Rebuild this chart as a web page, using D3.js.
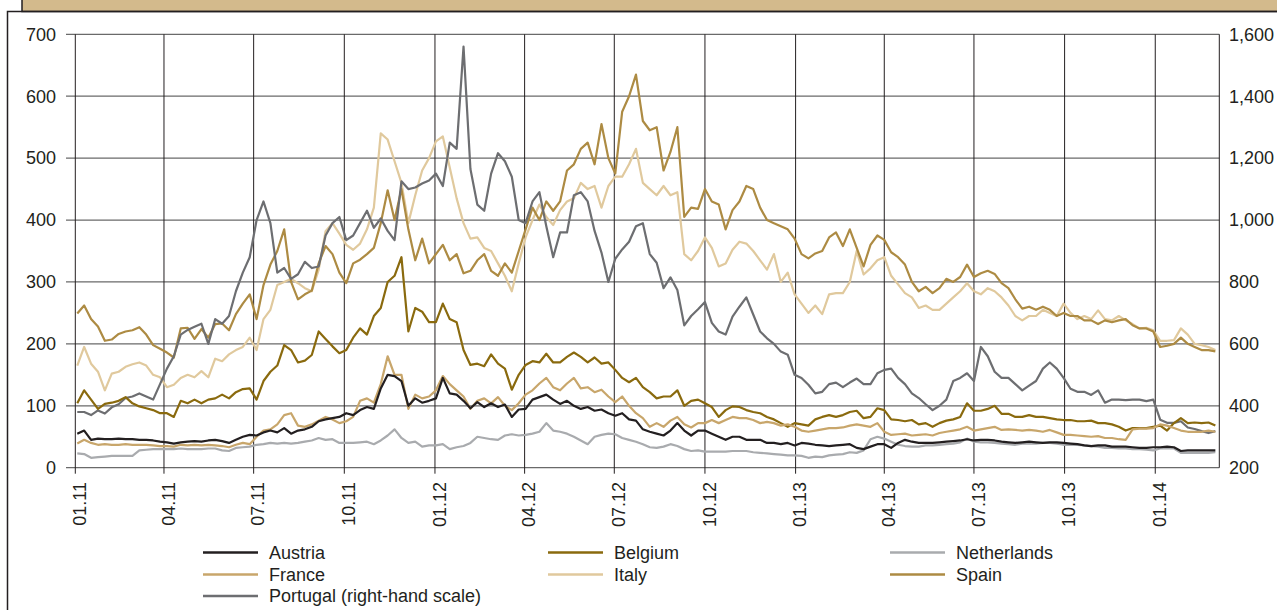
<!DOCTYPE html>
<html>
<head>
<meta charset="utf-8">
<script src="https://cdn.jsdelivr.net/npm/d3@7"></script>
<style>
  body { margin: 0; background: #fff; }
  svg text { font-family: "Liberation Sans", Arial, Helvetica, sans-serif; fill: #231f20; }
</style>
</head>
<body>
<svg id="chart" width="1277" height="610"></svg>
<script>
// weekly observations (Mondays), first one 3 Jan 2011
const firstWeek = new Date(2011, 0, 3);
const lastWeek = new Date(2014, 2, 3);

const tickLabels = ["01.11", "04.11", "07.11", "10.11", "01.12", "04.12", "07.12",
  "10.12", "01.13", "04.13", "07.13", "10.13", "01.14"];
const leftTicks = [0, 100, 200, 300, 400, 500, 600, 700];
const rightTicks = [200, 400, 600, 800, 1000, 1200, 1400, 1600];

const austria = [55,60,45,47,46,46,47,46,46,45,45,44,42,41,39,41,42,43,42,44,45,43,40,45,50,53,52,57,60,57,64,55,60,62,66,75,78,80,82,88,85,93,98,95,128,150,148,140,100,112,105,108,112,
  145,120,118,108,96,106,98,104,98,102,82,94,95,110,114,118,110,103,108,100,95,98,92,94,88,84,88,78,76,62,58,55,52,60,72,60,52,60,60,55,50,45,50,50,45,45,45,40,40,38,40,36,
  40,39,37,36,35,36,37,38,32,30,34,38,38,32,40,45,42,40,40,40,41,42,43,44,46,44,45,45,44,42,41,40,41,42,41,40,41,41,40,39,38,36,35,36,36,34,34,34,33,32,32,33,33,34,33,27,28,28,28,28,28];

const belgium = [104,125,110,95,103,105,108,114,104,99,96,93,88,88,82,108,104,110,104,110,112,118,112,122,127,128,110,140,155,165,198,190,170,173,182,220,208,196,185,190,210,225,215,245,258,300,310,340,220,258,252,235,235,
  265,240,235,190,166,168,164,183,168,160,126,150,166,172,170,184,170,170,179,186,179,170,178,168,170,158,145,138,145,130,122,112,115,115,125,100,108,110,104,98,82,93,99,98,93,90,88,82,78,72,66,72,
  70,68,78,82,85,82,85,90,92,80,82,96,93,78,77,75,77,70,72,66,72,76,78,82,104,92,92,95,100,87,87,82,82,85,82,82,80,78,77,77,75,75,76,72,72,70,66,60,64,64,64,66,68,60,72,80,72,73,72,73,68];

const netherlands = [23,22,16,17,18,19,19,19,19,28,29,30,30,30,30,31,30,30,30,31,31,28,27,32,33,34,37,38,40,39,40,39,40,42,44,48,45,46,40,40,40,41,42,38,44,52,62,48,40,42,34,36,36,
  38,30,33,35,40,50,48,46,45,52,54,52,53,55,58,72,60,58,55,50,44,38,50,53,55,54,48,45,42,38,33,32,34,38,35,30,27,28,26,26,26,26,27,27,27,25,24,23,22,21,20,20,
  19,16,18,17,20,21,22,25,24,28,46,50,47,42,37,35,34,34,36,36,37,38,39,41,47,42,41,41,40,39,38,37,39,39,39,40,40,39,37,37,37,36,35,34,32,32,31,31,30,30,29,28,31,31,31,24,24,24,24,24,25];

const france = [39,45,40,37,38,37,37,38,37,37,37,36,35,35,34,37,36,37,36,37,36,35,33,37,40,38,50,60,62,70,85,88,68,66,70,76,82,78,72,75,82,108,112,105,135,180,150,150,95,118,112,115,125,
  148,135,125,115,95,108,112,104,114,100,93,104,118,125,136,145,130,125,136,145,128,130,122,126,115,106,115,100,88,80,66,72,66,76,82,70,65,72,72,77,72,77,82,80,80,77,72,74,72,68,70,66,
  60,58,60,62,64,64,65,68,70,68,66,72,58,53,54,55,52,53,54,52,56,58,60,62,66,60,62,64,66,61,62,61,60,61,60,58,61,57,53,53,52,51,50,51,48,48,46,45,62,63,63,64,70,68,64,60,58,58,58,60,58];

const italy = [165,195,168,155,125,152,155,163,167,170,165,150,146,130,134,145,150,146,156,146,176,172,183,190,195,210,190,240,255,295,300,305,298,290,285,320,382,395,378,360,352,362,385,420,540,530,495,460,395,440,480,500,527,
  535,485,435,395,370,372,355,350,330,310,285,330,372,400,425,405,392,416,430,435,460,450,455,420,455,470,470,490,515,460,450,440,455,440,445,345,335,350,372,355,325,330,352,365,362,350,335,320,345,300,315,280,
  265,250,262,248,280,282,282,300,350,312,322,335,340,310,296,282,275,258,262,255,255,265,275,285,298,285,280,290,285,275,262,245,238,245,245,255,250,245,265,250,240,245,240,254,240,238,245,238,232,225,226,222,205,205,206,225,215,200,198,195,190];

const spain = [249,262,240,228,205,207,216,220,222,227,215,198,192,186,178,225,226,208,224,210,232,233,222,248,265,280,240,295,328,350,385,300,272,280,286,330,358,345,315,298,330,336,345,355,395,448,400,450,385,335,370,330,345,
  360,335,345,314,318,335,345,318,310,330,315,350,385,420,400,430,415,430,480,490,515,525,490,555,500,475,575,600,635,560,545,550,480,510,550,405,420,418,450,430,425,385,416,430,455,450,420,400,395,390,385,370,
  345,338,346,350,372,380,358,385,355,325,360,375,368,348,340,328,300,285,292,282,290,305,300,308,328,308,314,318,313,298,290,272,257,260,255,260,255,245,250,245,245,238,238,232,238,235,238,240,230,225,225,220,195,197,200,210,200,195,190,190,188];

// right-hand scale
const portugal = [380,380,370,385,375,395,405,425,430,440,430,420,470,520,560,630,645,655,665,600,680,665,690,770,830,880,1000,1060,990,830,845,810,825,865,845,850,950,990,1010,935,950,990,1030,975,1005,965,935,1125,1100,1105,1118,1128,1150,
  1110,1250,1230,1560,1165,1050,1030,1150,1216,1190,1140,1000,990,1060,1090,980,880,960,960,1080,1090,1060,965,895,800,875,905,930,980,990,890,862,780,815,774,660,690,712,735,668,640,630,688,720,750,695,640,618,600,575,565,500,
  490,468,440,445,470,475,460,475,488,470,470,505,516,520,490,470,440,425,405,386,400,420,480,490,505,480,590,560,510,490,490,470,450,465,480,520,540,520,490,455,445,445,435,450,410,420,420,418,420,420,415,420,355,345,345,350,330,325,318,312,318];

const series = [
  { name: "Italy", values: italy, color: "#e0c99d", right: false },
  { name: "Spain", values: spain, color: "#ad8b43", right: false },
  { name: "Portugal (right-hand scale)", values: portugal, color: "#6d6e71", right: true },
  { name: "Belgium", values: belgium, color: "#8a6a0e", right: false },
  { name: "France", values: france, color: "#c8a66b", right: false },
  { name: "Netherlands", values: netherlands, color: "#a9abae", right: false },
  { name: "Austria", values: austria, color: "#231f20", right: false }
];

const legendOrder = [
  ["Austria", "Belgium", "Netherlands"],
  ["France", "Italy", "Spain"],
  ["Portugal (right-hand scale)"]
];

const dates = d3.timeMonday.range(firstWeek, d3.timeDay.offset(lastWeek, 1));
const quarters = d3.timeMonth.every(3).range(new Date(2011, 0, 1), new Date(2014, 0, 2));

const svg = d3.select("#chart");

// frame and header band
svg.append("rect").attr("x", 22).attr("y", -2).attr("width", 1260).attr("height", 13.5)
  .attr("fill", "#d3ba8c").attr("stroke", "#231f20").attr("stroke-width", 1.5);
svg.append("path").attr("d", "M7.5,612V11.5H1280")
  .attr("fill", "none").attr("stroke", "#231f20").attr("stroke-width", 1.5);

const x = d3.scaleTime()
  .domain([new Date(2011, 0, 1), new Date(2014, 2, 7)])
  .range([75.3, 1219.3]);
const yL = d3.scaleLinear().domain([0, 700]).range([467.7, 34.3]);
const yR = d3.scaleLinear().domain([200, 1600]).range([467.7, 34.3]);

// horizontal grid
svg.append("g").selectAll("line").data(leftTicks).join("line")
  .attr("x1", 66).attr("x2", x.range()[1])
  .attr("y1", d => yL(d)).attr("y2", d => yL(d))
  .attr("stroke", "#6a6a6a").attr("stroke-width", 1.3);

// vertical grid (quarters) + right border
svg.append("g").selectAll("line").data(quarters).join("line")
  .attr("x1", d => x(d)).attr("x2", d => x(d))
  .attr("y1", yL(700)).attr("y2", yL(0) + 6)
  .attr("stroke", "#231f20").attr("stroke-width", 1);
svg.append("line")
  .attr("x1", x.range()[1]).attr("x2", x.range()[1])
  .attr("y1", yL(700)).attr("y2", yL(0))
  .attr("stroke", "#231f20").attr("stroke-width", 1);

// axis labels
svg.append("g").selectAll("text").data(leftTicks).join("text")
  .attr("x", 56).attr("y", d => yL(d)).attr("dy", "0.35em")
  .attr("text-anchor", "end").attr("font-size", 18)
  .text(d => d3.format(",")(d));

svg.append("g").selectAll("text").data(rightTicks).join("text")
  .attr("x", 1229).attr("y", d => yR(d)).attr("dy", "0.35em")
  .attr("text-anchor", "start").attr("font-size", 18)
  .text(d => d3.format(",")(d));

svg.append("g").selectAll("text").data(quarters).join("text")
  .attr("transform", d => `translate(${x(d) + 4.5},482) rotate(-90)`)
  .attr("dy", "0.35em").attr("text-anchor", "end").attr("font-size", 18)
  .text((d, i) => tickLabels[i]);

// lines
series.forEach(s => {
  const y = s.right ? yR : yL;
  const line = d3.line()
    .x((d, i) => x(dates[i]))
    .y(d => y(d));
  svg.append("path")
    .datum(s.values)
    .attr("d", line)
    .attr("fill", "none")
    .attr("stroke", s.color)
    .attr("stroke-width", 2.2)
    .attr("stroke-linejoin", "round");
});

// legend
const colX = [203, 548, 890];
const rowY = [552.5, 574.5, 596];
legendOrder.forEach((row, r) => {
  row.forEach((name, c) => {
    const s = series.find(e => e.name === name);
    svg.append("line")
      .attr("x1", colX[c]).attr("x2", colX[c] + 55)
      .attr("y1", rowY[r]).attr("y2", rowY[r])
      .attr("stroke", s.color).attr("stroke-width", 2.5);
    svg.append("text")
      .attr("x", colX[c] + 66).attr("y", rowY[r]).attr("dy", "0.35em")
      .attr("font-size", 18)
      .text(name);
  });
});
</script>
</body>
</html>
